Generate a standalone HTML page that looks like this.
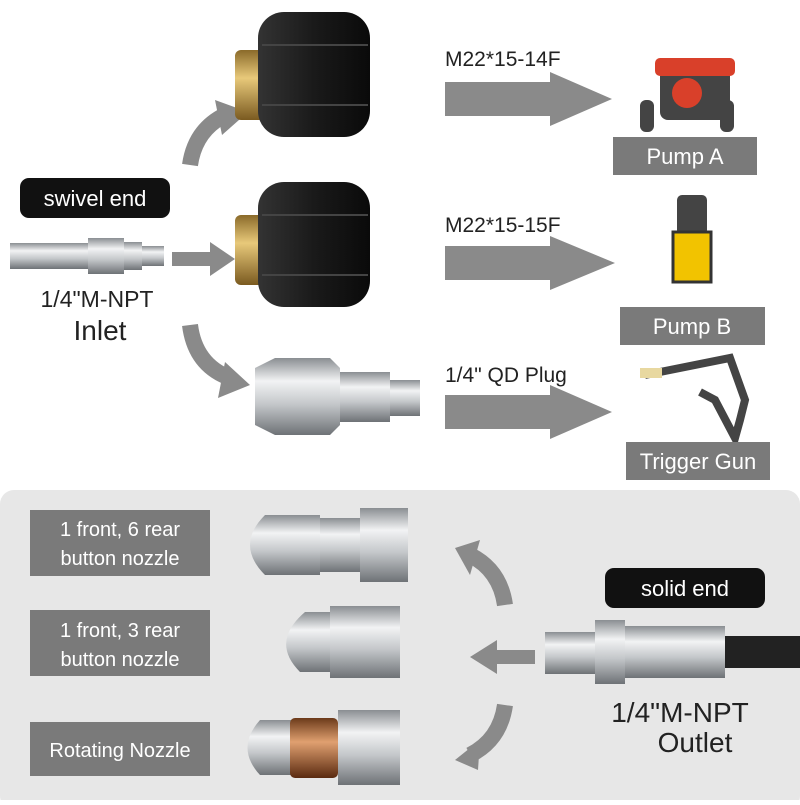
<!DOCTYPE html><html><head><style>body{margin:0;width:800px;height:800px;overflow:hidden;background:#fff}</style></head><body>
<svg width="800" height="800" xmlns="http://www.w3.org/2000/svg" font-family="Liberation Sans, sans-serif">
<defs>
<linearGradient id="sil" x1="0" y1="0" x2="0" y2="1"><stop offset="0" stop-color="#8a8e92"/><stop offset=".3" stop-color="#f2f3f4"/><stop offset=".6" stop-color="#c4c7ca"/><stop offset="1" stop-color="#6e7276"/></linearGradient>
<linearGradient id="blk" x1="0" y1="0" x2="1" y2="0"><stop offset="0" stop-color="#333"/><stop offset=".5" stop-color="#1a1a1a"/><stop offset="1" stop-color="#0a0a0a"/></linearGradient>
<linearGradient id="brass" x1="0" y1="0" x2="0" y2="1"><stop offset="0" stop-color="#8a6a2a"/><stop offset=".4" stop-color="#e8c97a"/><stop offset="1" stop-color="#7a5a20"/></linearGradient>
<linearGradient id="cu" x1="0" y1="0" x2="0" y2="1"><stop offset="0" stop-color="#6b3a1a"/><stop offset=".4" stop-color="#e0a070"/><stop offset="1" stop-color="#5a2a10"/></linearGradient>
</defs>
<rect x="0" y="490" width="800" height="320" rx="14" fill="#e7e7e7"/>
<rect x="20" y="178" width="150" height="40" rx="9" fill="#111"/>
<text x="95" y="206" font-size="22" fill="#fff" text-anchor="middle">swivel end</text>
<rect x="10" y="243" width="80" height="26" fill="url(#sil)"/>
<rect x="88" y="238" width="36" height="36" fill="url(#sil)"/>
<rect x="124" y="242" width="18" height="28" fill="url(#sil)"/>
<rect x="142" y="246" width="22" height="20" fill="url(#sil)"/>
<text x="97" y="307" font-size="23" fill="#222" text-anchor="middle">1/4"M-NPT</text>
<text x="100" y="340" font-size="28" fill="#222" text-anchor="middle">Inlet</text>
<g fill="none" stroke="#8a8a8a" stroke-width="16">
<path d="M190 165 Q195 130 225 115"/><path d="M190 325 Q195 365 230 378"/>
<path d="M505 605 Q500 570 470 555"/><path d="M505 705 Q500 740 470 755"/>
</g>
<g fill="#8a8a8a">
<polygon points="215,100 248,112 222,135"/><polygon points="225,362 250,385 218,398"/>
<polygon points="480,540 455,548 470,575"/><polygon points="478,770 455,760 480,740"/>
<rect x="172" y="252" width="40" height="14"/><polygon points="210,242 235,259 210,276"/>
<rect x="495" y="650" width="40" height="14"/><polygon points="497,640 470,657 497,674"/>
</g>
<g fill="#8a8a8a">
<rect x="445" y="82" width="110" height="34"/><polygon points="550,72 612,99 550,126"/>
<rect x="445" y="246" width="110" height="34"/><polygon points="550,236 615,263 550,290"/>
<rect x="445" y="395" width="110" height="34"/><polygon points="550,385 612,412 550,439"/>
</g>
<text x="445" y="66" font-size="21" fill="#222">M22*15-14F</text>
<text x="445" y="232" font-size="21" fill="#222">M22*15-15F</text>
<text x="445" y="382" font-size="21" fill="#222">1/4" QD Plug</text>
<rect x="235" y="50" width="40" height="70" rx="6" fill="url(#brass)"/>
<rect x="258" y="12" width="112" height="125" rx="26" fill="url(#blk)"/>
<rect x="235" y="215" width="40" height="70" rx="6" fill="url(#brass)"/>
<rect x="258" y="182" width="112" height="125" rx="26" fill="url(#blk)"/>
<g stroke="#444" stroke-width="2"><line x1="262" y1="45" x2="368" y2="45"/><line x1="262" y1="105" x2="368" y2="105"/><line x1="262" y1="215" x2="368" y2="215"/><line x1="262" y1="275" x2="368" y2="275"/></g>
<polygon points="255,368 275,358 330,358 340,368 340,425 330,435 275,435 255,425" fill="url(#sil)"/>
<rect x="340" y="372" width="50" height="50" fill="url(#sil)"/>
<rect x="390" y="380" width="30" height="36" fill="url(#sil)"/>
<rect x="660" y="60" width="70" height="60" rx="8" fill="#444"/><rect x="655" y="58" width="80" height="18" rx="5" fill="#d9402a"/>
<circle cx="687" cy="93" r="15" fill="#d9402a"/>
<rect x="640" y="100" width="14" height="32" rx="6" fill="#444"/><rect x="720" y="100" width="14" height="32" rx="6" fill="#444"/>
<rect x="677" y="195" width="30" height="40" rx="5" fill="#444"/><rect x="673" y="232" width="38" height="50" fill="#f2c300" stroke="#333" stroke-width="3"/>
<path d="M645 375 L730 358 L745 400 L740 420 L735 438 L715 400 L700 392" fill="none" stroke="#444" stroke-width="8"/>
<rect x="640" y="368" width="22" height="10" fill="#e8d8a0"/>
<rect x="613" y="137" width="144" height="38" fill="#7a7a7a"/><text x="685" y="164" font-size="22" fill="#fff" text-anchor="middle">Pump A</text>
<rect x="620" y="307" width="145" height="38" fill="#7a7a7a"/><text x="692" y="334" font-size="22" fill="#fff" text-anchor="middle">Pump B</text>
<rect x="626" y="442" width="144" height="38" fill="#7a7a7a"/><text x="698" y="469" font-size="22" fill="#fff" text-anchor="middle">Trigger Gun</text>
<rect x="30" y="510" width="180" height="66" fill="#7a7a7a"/>
<text x="120" y="536" font-size="20" fill="#fff" text-anchor="middle">1 front, 6 rear</text><text x="120" y="565" font-size="20" fill="#fff" text-anchor="middle">button nozzle</text>
<rect x="30" y="610" width="180" height="66" fill="#7a7a7a"/>
<text x="120" y="637" font-size="20" fill="#fff" text-anchor="middle">1 front, 3 rear</text><text x="120" y="666" font-size="20" fill="#fff" text-anchor="middle">button nozzle</text>
<rect x="30" y="722" width="180" height="54" fill="#7a7a7a"/>
<text x="120" y="757" font-size="20" fill="#fff" text-anchor="middle">Rotating Nozzle</text>
<path d="M265 515 L320 515 L320 575 L265 575 Q235 545 265 515Z" fill="url(#sil)"/><rect x="320" y="518" width="40" height="54" fill="url(#sil)"/><rect x="360" y="508" width="48" height="74" fill="url(#sil)"/>
<path d="M305 612 L330 612 L330 672 L300 672 Q270 642 305 612Z" fill="url(#sil)"/><rect x="330" y="606" width="70" height="72" fill="url(#sil)"/>
<path d="M260 720 L300 720 L300 775 L260 775 Q235 748 260 720Z" fill="url(#sil)"/><rect x="290" y="718" width="48" height="60" rx="5" fill="url(#cu)"/><rect x="338" y="710" width="62" height="75" fill="url(#sil)"/>
<rect x="605" y="568" width="160" height="40" rx="9" fill="#111"/>
<text x="685" y="596" font-size="22" fill="#fff" text-anchor="middle">solid end</text>
<rect x="545" y="632" width="50" height="42" fill="url(#sil)"/>
<rect x="595" y="620" width="30" height="64" fill="url(#sil)"/>
<rect x="625" y="626" width="100" height="52" fill="url(#sil)"/>
<rect x="725" y="636" width="75" height="32" fill="#222"/>
<text x="680" y="722" font-size="28" fill="#222" text-anchor="middle">1/4"M-NPT</text>
<text x="695" y="752" font-size="28" fill="#222" text-anchor="middle">Outlet</text>
</svg>
</body></html>
